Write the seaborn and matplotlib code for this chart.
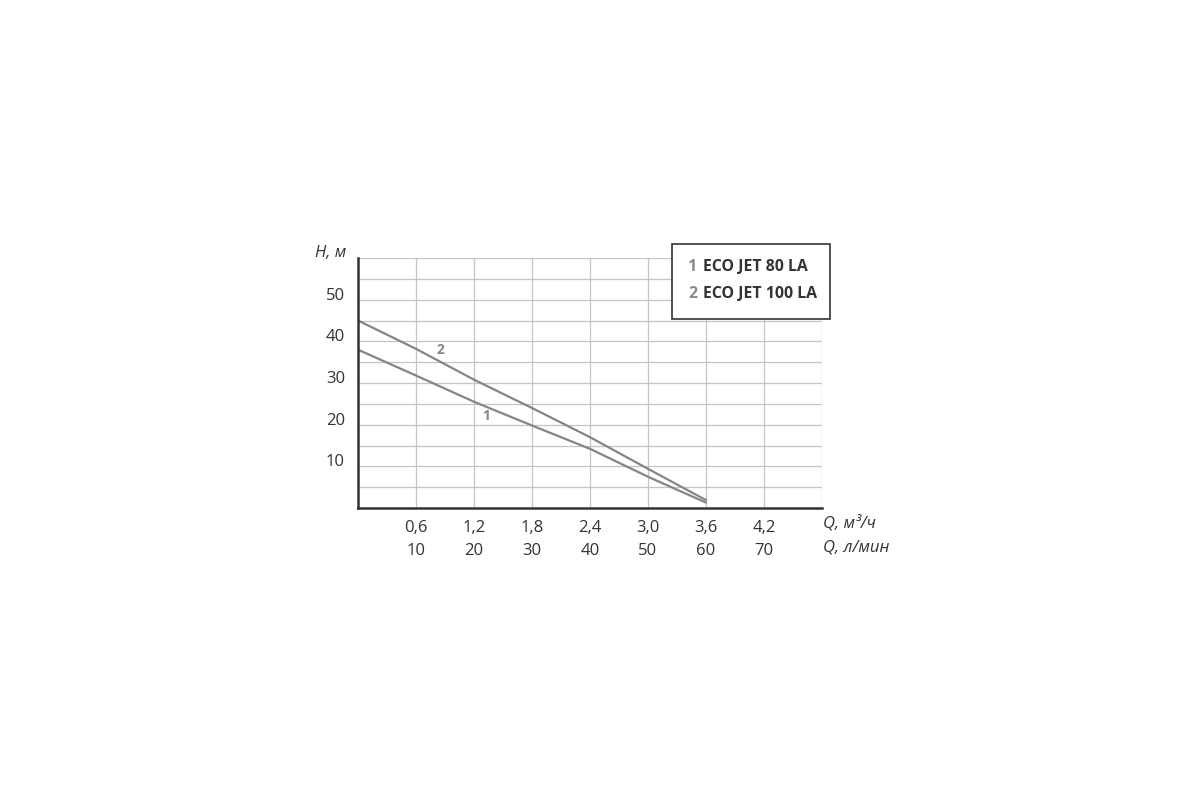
import numpy as np
import pandas as pd
import seaborn as sns
import matplotlib.pyplot as plt
import matplotlib.transforms as mtransforms
from matplotlib.patches import Rectangle

# Données
q_m3h = [0.0, 0.6, 1.2, 1.8, 2.4, 3.0, 3.6]
h_jet80 = [38.0, 31.8, 25.5, 19.8, 14.2, 7.5, 1.3]
h_jet100 = [45.0, 38.2, 30.8, 24.0, 17.0, 9.4, 1.9]
x_ticks = [0.6, 1.2, 1.8, 2.4, 3.0, 3.6, 4.2]
x_labels_m3h = ['0,6', '1,2', '1,8', '2,4', '3,0', '3,6', '4,2']
x_labels_lmin = ['10', '20', '30', '40', '50', '60', '70']
y_ticks = [10, 20, 30, 40, 50]
legend_names = ['ECO JET 80 LA', 'ECO JET 100 LA']

df = pd.DataFrame({
    'Q': q_m3h * 2,
    'H': h_jet80 + h_jet100,
    'pompe': [legend_names[0]] * len(q_m3h) + [legend_names[1]] * len(q_m3h),
})

sns.set_style('white')
plt.rcParams['font.family'] = ['Open Sans', 'DejaVu Sans']

line_col = '#858585'
grid_col = '#c4c4c4'
dark = '#333333'

fig = plt.figure(figsize=(12, 8), dpi=100)
ax = fig.add_axes([0.2983, 0.365, 0.3867, 0.3125])

sns.lineplot(data=df, x='Q', y='H', hue='pompe', palette=[line_col, line_col],
             linewidth=1.6, legend=False, ax=ax)

ax.set_xlim(0, 4.8)
ax.set_ylim(0, 60)
ax.set_xticks(np.arange(0, 4.81, 0.6))
ax.set_yticks(np.arange(0, 61, 5))
ax.grid(True, color=grid_col, linewidth=0.9)
ax.set_axisbelow(True)

ax.set_xticklabels([''] + [f'{a}\n{b}' for a, b in zip(x_labels_m3h, x_labels_lmin)] + [''],
                   linespacing=1.55)
ax.set_yticklabels(['' if v not in y_ticks else str(v) for v in np.arange(0, 61, 5)])
ax.tick_params(length=0, labelsize=12, labelcolor=dark, pad=9)
ax.tick_params(axis='y', pad=13)

# étiquettes de l'axe H un peu au-dessus des lignes
shift = mtransforms.ScaledTranslation(0.05, 0.06, fig.dpi_scale_trans)
for lab in ax.get_yticklabels():
    lab.set_transform(lab.get_transform() + shift)

for side in ['top', 'right']:
    ax.spines[side].set_visible(False)
for side in ['left', 'bottom']:
    ax.spines[side].set_color(dark)
    ax.spines[side].set_linewidth(1.8)

ax.set_xlabel('')
ax.set_ylabel('')

# Titres des axes
ax.text(-0.025, 1.02, 'H, м', transform=ax.transAxes, ha='right', va='center',
        fontsize=12, style='italic', color=dark)
ax.text(1.003, -0.062, 'Q, м³/ч', transform=ax.transAxes, ha='left', va='center',
        fontsize=12, style='italic', color=dark)
ax.text(1.003, -0.157, 'Q, л/мин', transform=ax.transAxes, ha='left', va='center',
        fontsize=12, style='italic', color=dark)

# Numéros des courbes
ax.text(0.85, 38.0, '2', fontsize=10, fontweight='bold', color=line_col, ha='center', va='center')
ax.text(1.33, 22.2, '1', fontsize=10, fontweight='bold', color=line_col, ha='center', va='center')

# Légende encadrée
fig.patches.append(Rectangle((672 / 1200, 1 - 319 / 800), 158 / 1200, 75 / 800,
                             transform=fig.transFigure, facecolor='white',
                             edgecolor=dark, linewidth=1.2, zorder=5))
for i, name in enumerate(legend_names):
    y = 1 - (267 + 27 * i) / 800
    fig.text(688 / 1200, y, str(i + 1), fontsize=11.4, color='#8a8a8a',
             fontweight='bold', ha='left', va='center', zorder=6)
    fig.text(703 / 1200, y, name, fontsize=11.4, color=dark,
             fontweight='bold', ha='left', va='center', zorder=6)

fig.savefig('out.png', dpi=100, facecolor='white')
